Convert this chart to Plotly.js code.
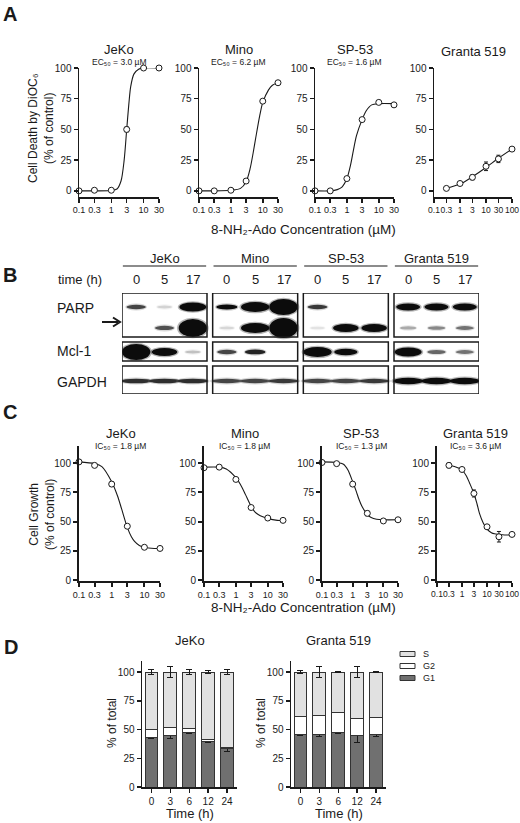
<!DOCTYPE html>
<html><head><meta charset="utf-8">
<script src="https://cdn.plot.ly/plotly-3.0.1.min.js"></script>
<style>html,body{margin:0;padding:0;background:#fff}#chart{width:520px;height:823px}</style>
</head><body><div id="chart"></div>
<script>
// ================= DATA =================
const cellLines = ['JeKo', 'Mino', 'SP-53', 'Granta 519'];
const ec50Values = ['3.0', '6.2', '1.6', null];
const ic50Values = ['1.8', '1.8', '1.3', '3.6'];

const concStd = [0.1, 0.3, 1, 3, 10, 30];
const concGranta = [0.3, 1, 3, 10, 30, 100];
const tickStd = [0.1, 0.3, 1, 3, 10, 30];
const tickStdText = ['0.1', '0.3', '1', '3', '10', '30'];
const tickGranta = [0.1, 0.3, 1, 3, 10, 30, 100];
const tickGrantaText = ['0.1', '0.3', '1', '3', '10', '30', '100'];
const pctTicks = [0, 25, 50, 75, 100];

// Panel A: cell death by DiOC6 (% of control)
const deathJeKo = [0, 0.5, 0.5, 50, 100, 100];
const deathJeKoErr = [0, 0, 0, 2, 0, 0];
const deathMino = [0, 0, 0.5, 8, 73, 88];
const deathMinoErr = [0, 0, 0, 0.5, 1, 0.5];
const deathSP53 = [0, 0, 10, 58, 72, 70];
const deathSP53Err = [0, 0, 0.5, 0.5, 0.5, 0.5];
const deathGranta = [2, 6, 11, 20, 26, 34];
const deathGrantaErr = [0.5, 0.5, 2, 3.5, 3, 0.5];

// Panel A fitted curves
const fitDeathJeKoX = [0.1, 0.3, 1, 1.5, 2, 2.5, 3, 3.5, 4, 5, 7, 10, 30];
const fitDeathJeKoY = [0, 0, 0.3, 1.5, 8, 25, 50, 71, 85, 95, 99, 100, 100];
const fitDeathMinoX = [0.1, 0.3, 1, 2, 3, 4, 5, 6, 8, 10, 15, 20, 30];
const fitDeathMinoY = [0, 0, 0.5, 2, 7.5, 18, 31, 43, 61, 72, 82, 86, 88];
const fitDeathSP53X = [0.1, 0.3, 0.5, 0.7, 1, 1.3, 1.6, 2, 3, 4, 6, 10, 30];
const fitDeathSP53Y = [0, 0, 1, 3, 10, 21, 33, 45, 58, 65, 70, 71, 71];
const fitDeathGrantaX = [0.3, 1, 3, 10, 30, 100];
const fitDeathGrantaY = [2, 5.5, 11.5, 19, 26.5, 34];

// Panel B: western blot band signals (lanes: 0, 5, 17 h for each cell line)
const blotTimes = ['0', '5', '17'];
const blotRows = ['PARP', 'Mcl-1', 'GAPDH'];
const parpFull = [0.75, 0.12, 1.8, 1.0, 2.0, 3.2, 0.8, 0, 0, 1.4, 1.4, 1.4];
const parpCleaved = [0, 0.7, 3.6, 0.1, 2.0, 4.0, 0.05, 1.6, 1.6, 0.3, 0.45, 0.55];
const mcl1 = [3.2, 1.6, 0.2, 0.75, 0.9, 0, 2.0, 1.3, 0, 1.8, 0.6, 0.55];
const gapdh = [0.85, 0.85, 0.85, 0.75, 0.75, 0.8, 0.75, 0.75, 0.8, 1.3, 1.3, 1.3];

// Panel C: cell growth (% of control)
const growthJeKo = [101, 98, 82, 46, 28, 27];
const growthJeKoErr = [1.5, 0.5, 2, 1, 0.5, 0.5];
const growthMino = [96, 96.5, 86, 62, 53, 51];
const growthMinoErr = [0.5, 0.5, 1, 1, 0.5, 0.5];
const growthSP53 = [100.5, 99.5, 82, 57, 50.5, 51.5];
const growthSP53Err = [1, 0, 1.5, 2, 0.5, 0.5];
const growthGranta = [98, 94.5, 74, 45.5, 37, 39];
const growthGrantaErr = [2, 0.5, 3, 1, 4.5, 0.5];

const fitGrowthJeKoX = [0.1, 0.3, 0.5, 1, 1.5, 2, 3, 4, 5, 7, 10, 20, 30];
const fitGrowthJeKoY = [101, 99.5, 97, 84, 72, 61, 45, 37, 33, 29.5, 28, 27, 27];
const fitGrowthMinoX = [0.1, 0.3, 0.5, 1, 1.5, 2, 3, 4, 5, 7, 10, 20, 30];
const fitGrowthMinoY = [96.5, 96.5, 95, 87.5, 80, 73, 63, 58, 56, 54, 52.5, 51, 51];
const fitGrowthSP53X = [0.1, 0.3, 0.5, 0.7, 1, 1.3, 1.6, 2, 3, 4, 6, 10, 30];
const fitGrowthSP53Y = [101, 100.5, 99, 94, 84, 76, 69, 63, 56, 53.5, 52, 51.5, 51.5];
const fitGrowthGrantaX = [0.3, 0.5, 1, 1.5, 2, 3, 4, 5, 7, 10, 15, 20, 30, 50, 100];
const fitGrowthGrantaY = [98, 97, 94, 89, 83, 74, 65, 57, 49, 43.5, 40.5, 39.5, 39, 38.5, 38.5];

// Panel D: cell cycle distribution (% of total)
const timePoints = ['0', '3', '6', '12', '24'];
const phases = ['S', 'G2', 'G1'];
const jekoG1 = [43, 44.5, 47.5, 40, 33.5];
const jekoG1Err = [0.5, 2.5, 1, 1.5, 2.5];
const jekoG2 = [7, 7.5, 3, 1, 1];
const jekoS = [50, 48, 49.5, 59, 65.5];
const jekoSErr = [2.5, 4.5, 2, 1.5, 2.5];
const grantaG1 = [45.5, 46, 47, 45, 46];
const grantaG1Err = [1, 2.5, 0.5, 6, 2];
const grantaG2 = [15.5, 16.5, 17.5, 14.5, 14.5];
const grantaS = [39, 37.5, 35.5, 40.5, 39.5];
const grantaSErr = [1.5, 4.5, 0.5, 5, 0.5];

// ================= DRAWING =================
const FONT = 'Liberation Sans, Arial, DejaVu Sans, sans-serif';
const INK = '#1a1a1a';
const W = 520, H = 823;
const px = v => v / W, py = v => 1 - v / H;
const id = n => (n === 1 ? '' : String(n));

const traces = [];
const annotations = [];
const shapes = [];
const layout = {
  width: W, height: H, margin: {l: 0, r: 0, t: 0, b: 0},
  paper_bgcolor: '#fff', plot_bgcolor: 'rgba(0,0,0,0)',
  showlegend: false, barmode: 'stack', bargap: 0.32,
  font: {family: FONT, color: INK, size: 10},
  annotations, shapes
};

function txt(text, x, y, size, extra) {
  return Object.assign({
    text, x: px(x), y: py(y), xref: 'paper', yref: 'paper', showarrow: false,
    font: {family: FONT, size, color: INK}, xanchor: 'center', yanchor: 'middle'
  }, extra || {});
}

function axisBase(lw) {
  return {
    showline: true, linecolor: INK, linewidth: lw, ticks: 'outside', ticklen: 4,
    tickwidth: lw, tickcolor: INK, showgrid: false, zeroline: false, fixedrange: true,
    tickangle: 0, automargin: false,
    tickfont: {family: FONT, size: 10, color: INK}
  };
}

function doseTraces(n, x, y, err, fx, fy) {
  traces.push({
    type: 'scatter', mode: 'lines', x: fx, y: fy, xaxis: 'x' + id(n), yaxis: 'y' + id(n),
    line: {color: INK, width: 1.1, shape: 'spline', smoothing: 0.8}, hoverinfo: 'skip', cliponaxis: false
  });
  traces.push({
    type: 'scatter', mode: 'markers', x, y, xaxis: 'x' + id(n), yaxis: 'y' + id(n),
    error_y: {type: 'data', array: err, visible: true, color: INK, thickness: 1, width: 2},
    marker: {symbol: 'circle', size: 6, color: '#fff', line: {color: INK, width: 1}}, cliponaxis: false
  });
}

function doseAxes(n, xdom, ytop, ybot, yrange, granta, lw) {
  const xa = axisBase(lw), ya = axisBase(lw);
  Object.assign(xa, {
    type: 'log', domain: [px(xdom[0]), px(xdom[1])], anchor: 'y' + id(n),
    range: [-1, granta ? 2 : Math.log10(30)],
    tickvals: granta ? tickGranta : tickStd, ticktext: granta ? tickGrantaText : tickStdText,
    tickfont: {family: FONT, size: granta ? 8.5 : 9, color: INK}
  });
  Object.assign(ya, {
    domain: [py(ybot), py(ytop)], anchor: 'x' + id(n), range: yrange, tickvals: pctTicks
  });
  layout['xaxis' + id(n)] = xa;
  layout['yaxis' + id(n)] = ya;
}

// ---------- Panel A ----------
const deathSets = [
  [concStd, deathJeKo, deathJeKoErr, fitDeathJeKoX, fitDeathJeKoY],
  [concStd, deathMino, deathMinoErr, fitDeathMinoX, fitDeathMinoY],
  [concStd, deathSP53, deathSP53Err, fitDeathSP53X, fitDeathSP53Y],
  [concGranta, deathGranta, deathGrantaErr, fitDeathGrantaX, fitDeathGrantaY]
];
const domA = [[79, 159], [199, 278], [315, 394], [434, 512]];
deathSets.forEach((s, i) => {
  doseTraces(i + 1, s[0], s[1], s[2], s[3], s[4]);
  doseAxes(i + 1, domA[i], 68, 197, [-5, 100], i === 3, 1.5);
  const cx = (domA[i][0] + domA[i][1]) / 2;
  annotations.push(txt(cellLines[i], cx, ec50Values[i] ? 49 : 52, 13));
  if (ec50Values[i]) annotations.push(txt('EC\u2085\u2080 = ' + ec50Values[i] + ' µM', cx, 62, 8.5));
});
annotations.push(txt('<b>A</b>', 10, 14, 20));
annotations.push(txt('Cell Death by DiOC\u2086<br>(% of control)', 41, 128, 12, {textangle: -90}));
annotations.push(txt('8-NH\u2082-Ado Concentration (µM)', 303, 229, 13.5));

// ---------- Panel C ----------
const growthSets = [
  [concStd, growthJeKo, growthJeKoErr, fitGrowthJeKoX, fitGrowthJeKoY],
  [concStd, growthMino, growthMinoErr, fitGrowthMinoX, fitGrowthMinoY],
  [concStd, growthSP53, growthSP53Err, fitGrowthSP53X, fitGrowthSP53Y],
  [concGranta, growthGranta, growthGrantaErr, fitGrowthGrantaX, fitGrowthGrantaY]
];
const domC = [[79, 160], [204, 283], [322, 398], [437, 512]];
growthSets.forEach((s, i) => {
  doseTraces(i + 5, s[0], s[1], s[2], s[3], s[4]);
  doseAxes(i + 5, domC[i], 445.5, 581.2, [-1, 115], i === 3, 2);
  const cx = (domC[i][0] + domC[i][1]) / 2 + 1;
  annotations.push(txt(cellLines[i], cx, 433, 13));
  annotations.push(txt('IC\u2085\u2080 = ' + ic50Values[i] + ' µM', cx, 446, 8.5));
});
annotations.push(txt('<b>C</b>', 10, 412, 20));
annotations.push(txt('Cell Growth<br>(% of control)', 42, 515, 12, {textangle: -90}));
annotations.push(txt('8-NH\u2082-Ado Concentration (µM)', 303, 607, 13.5));

// ---------- Panel D ----------
const PH_COL = {S: '#e1e1e1', G2: '#ffffff', G1: '#707070'};
const cycleSets = [
  {g1: jekoG1, g1e: jekoG1Err, g2: jekoG2, s: jekoS, se: jekoSErr},
  {g1: grantaG1, g1e: grantaG1Err, g2: grantaG2, s: grantaS, se: grantaSErr}
];
const domD = [[142, 236.5], [291, 385.5]];
const titlesD = [cellLines[0], cellLines[3]];
cycleSets.forEach((c, k) => {
  const n = 9 + k;
  const common = {type: 'bar', x: timePoints, xaxis: 'x' + id(n), yaxis: 'y' + id(n),
    hoverinfo: 'skip', cliponaxis: false};
  const eb = arr => ({type: 'data', array: arr, visible: true, color: INK, thickness: 1, width: 3});
  traces.push(Object.assign({}, common, {name: 'G1', y: c.g1, error_y: eb(c.g1e),
    marker: {color: PH_COL.G1, line: {color: '#333', width: 1}}}));
  traces.push(Object.assign({}, common, {name: 'G2', y: c.g2,
    marker: {color: PH_COL.G2, line: {color: '#333', width: 1}}}));
  traces.push(Object.assign({}, common, {name: 'S', y: c.s, error_y: eb(c.se),
    marker: {color: PH_COL.S, line: {color: '#333', width: 1}}}));
  const xa = axisBase(1.5), ya = axisBase(1.5);
  Object.assign(xa, {type: 'category', domain: [px(domD[k][0]), px(domD[k][1])], anchor: 'y' + id(n),
    range: [-0.5, 4.5]});
  Object.assign(ya, {domain: [py(787), py(660.5)], anchor: 'x' + id(n), range: [0, 110], tickvals: pctTicks});
  layout['xaxis' + id(n)] = xa;
  layout['yaxis' + id(n)] = ya;
  const cx = (domD[k][0] + domD[k][1]) / 2 + 0.5;
  annotations.push(txt(titlesD[k], cx, 640, 13));
  annotations.push(txt('Time (h)', cx, 813, 13));
  annotations.push(txt('% of total', domD[k][0] - 30, 723, 12, {textangle: -90}));
});
annotations.push(txt('<b>D</b>', 11, 647, 20));
// legend
phases.forEach((p, j) => {
  const yc = 654 + j * 12;
  shapes.push({type: 'rect', xref: 'paper', yref: 'paper', x0: px(400), x1: px(415),
    y0: py(yc + 2.5), y1: py(yc - 2.5), fillcolor: PH_COL[p], line: {color: '#333', width: 1}});
  annotations.push(txt(p, 421, yc, 9, {xanchor: 'left'}));
});

// ---------- Panel B (western blot) ----------
const BN = 11;
const GROUP_STEP = 3.2;
layout['xaxis' + BN] = {domain: [px(122), px(479)], range: [0, 12.6], anchor: 'y' + BN, visible: false, fixedrange: true};
layout['yaxis' + BN] = {domain: [py(394), py(293)], range: [101, 0], anchor: 'x' + BN, visible: false, fixedrange: true};
const xr = 'x' + BN, yr = 'y' + BN;
const laneX = i => Math.floor(i / 3) * GROUP_STEP + (i % 3) + 0.5;
const gray = d => { const v = Math.round(238 - 226 * Math.min(1, d)); return `rgb(${v},${v},${v})`; };
const bandRows = [
  {sig: parpFull, yc: 14, full: false},
  {sig: parpCleaved, yc: 35, full: false},
  {sig: mcl1, yc: 59, full: false},
  {sig: gapdh, yc: 88, full: true}
];
const boxes = [[1, 44], [50, 68], [74, 101]];
bandRows.forEach(r => {
  r.sig.forEach((s, i) => {
    if (s <= 0.02) return;
    const th = s <= 1 ? 5 * (0.5 + 0.5 * s) : 5 * s;
    const w = r.full ? 1.06 : Math.min(1.0, 0.5 + 0.25 * s);
    const cx = laneX(i);
    // soft halo around each band
    shapes.push({type: 'circle', xref: xr, yref: yr, x0: cx - w * 0.56, x1: cx + w * 0.56,
      y0: r.yc - th / 2 - 1.3, y1: r.yc + th / 2 + 1.3, fillcolor: gray(s * 0.7), opacity: 0.3,
      line: {width: 0}, layer: 'above'});
    shapes.push({type: 'circle', xref: xr, yref: yr, x0: cx - w / 2, x1: cx + w / 2,
      y0: r.yc - th / 2, y1: r.yc + th / 2, fillcolor: gray(s), line: {width: 0}, layer: 'above'});
  });
});
for (let g = 0; g < 4; g++) {
  const x0 = g * GROUP_STEP, x1 = x0 + 3;
  boxes.forEach(b => shapes.push({type: 'rect', xref: xr, yref: yr, x0, x1, y0: b[0] - 1, y1: b[1],
    fillcolor: 'rgba(0,0,0,0)', line: {color: INK, width: 1.5}, layer: 'above'}));
  shapes.push({type: 'line', xref: xr, yref: 'paper', x0: x0 + 0.03, x1: x1 - 0.03, y0: py(266), y1: py(266),
    line: {color: INK, width: 1.2}});
  annotations.push({text: cellLines[g], x: x0 + 1.5, y: py(258), xref: xr, yref: 'paper', showarrow: false,
    font: {family: FONT, size: 13, color: INK}, xanchor: 'center', yanchor: 'middle'});
  blotTimes.forEach((t, j) => annotations.push({text: t, x: laneX(g * 3 + j), y: py(280), xref: xr, yref: 'paper',
    showarrow: false, font: {family: FONT, size: 13, color: INK}, xanchor: 'center', yanchor: 'middle'}));
}
annotations.push(txt('<b>B</b>', 10, 275, 20));
annotations.push(txt('time (h)', 80, 280, 13));
annotations.push(txt(blotRows[0], 55, 308, 14, {xanchor: 'left'}));
annotations.push(txt(blotRows[1], 55, 351, 14, {xanchor: 'left'}));
annotations.push(txt(blotRows[2], 55, 382, 14, {xanchor: 'left'}));
// arrow marking cleaved PARP
shapes.push({type: 'line', xref: 'paper', yref: 'paper', x0: px(102), x1: px(118), y0: py(322), y1: py(322),
  line: {color: INK, width: 2}});
shapes.push({type: 'path', xref: 'paper', yref: 'paper',
  path: `M ${px(113)} ${py(317.5)} L ${px(120)} ${py(322)} L ${px(113)} ${py(326.5)}`,
  line: {color: INK, width: 2}});

Plotly.newPlot('chart', traces, layout, {displayModeBar: false, staticPlot: true});
</script>
</body></html>
